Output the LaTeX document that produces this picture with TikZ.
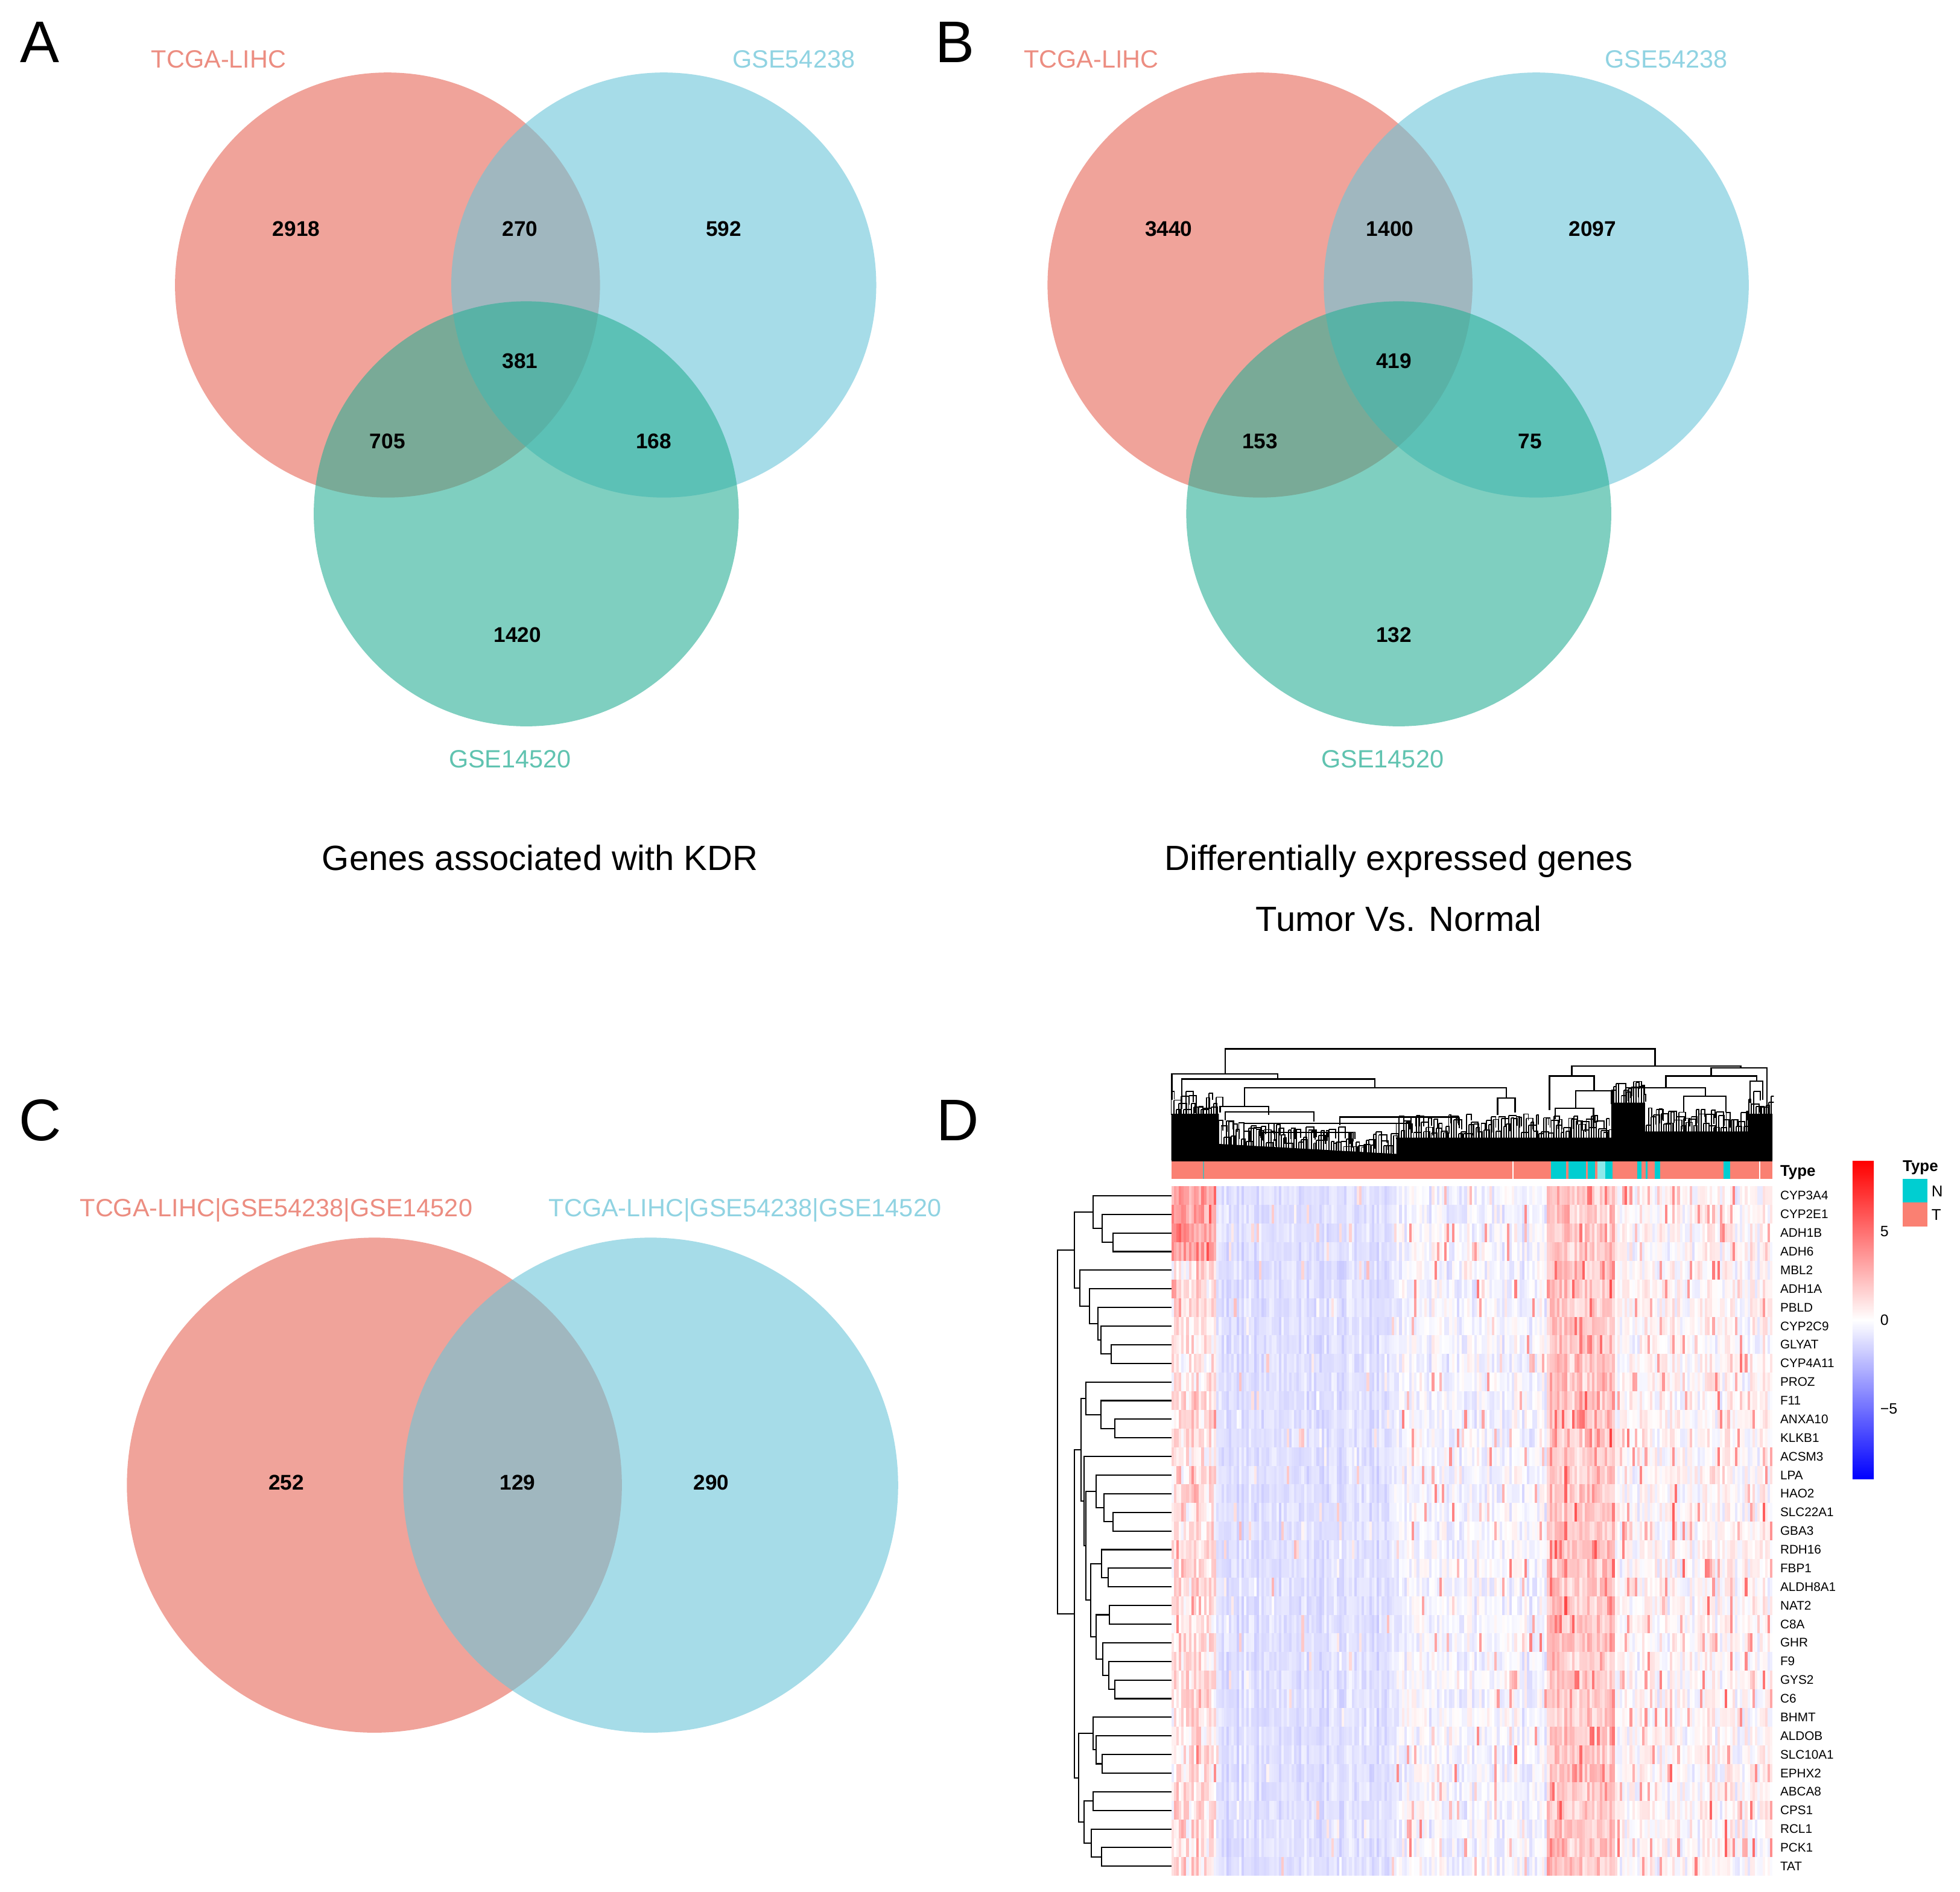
\documentclass[tikz,border=0pt]{standalone}
\usepackage{fontspec}
\setmainfont{Liberation Sans}
\usetikzlibrary{calc}
\definecolor{vred}{RGB}{230,103,87}
\definecolor{vblue}{RGB}{107,197,217}
\definecolor{vgreen}{RGB}{43,175,150}
\definecolor{tsalmon}{RGB}{250,128,114}
\definecolor{ncyan}{RGB}{0,206,209}
\newcommand\fsz[1]{\fontsize{#1}{#1}\selectfont}
\newcommand\dmerge[4]{%
  \path let \p1=(#2), \p2=(#3) in coordinate (#1) at (#4pt,{0.5*(\y1+\y2)});
  \draw[dline] let \p1=(#2), \p2=(#3) in (#2) -- (#4pt,\y1) -- (#4pt,\y2) -- (#3);}
\begin{document}
\begin{tikzpicture}[x=1pt,y=-1pt,
  vc/.style={circle, inner sep=0pt, outer sep=0pt, fill opacity=0.6, minimum size=#1},
  num/.style={font=\fsz{17}\bfseries, inner sep=0pt},
  setl/.style={font=\fsz{20}, inner sep=0pt, anchor=base},
  ttl/.style={font=\fsz{28}, inner sep=0pt, anchor=base},
  plab/.style={font=\fsz{47}, inner sep=0pt},
  gene/.style={font=\fsz{10}, inner sep=0pt, anchor=west},
  small/.style={font=\fsz{12}, inner sep=0pt},
  dline/.style={line width=1pt, black},
  tline/.style={line width=1.1pt, black}]
\useasboundingbox (0,0) rectangle (1568,1513);
\fill[white] (0,0) rectangle (1568,1513);

% ---------------- Panel A ----------------
\node[plab] (pA) at (32,34) {A};
\node[vc=340pt, fill=vred] (Ar) at (310,228) {};
\node[vc=340pt, fill=vblue] (Ab) at (531,228) {};
\node[vc=340pt, fill=vgreen] (Ag) at (421,411) {};
\node[num] (An1) at (237,183) {2918};
\node[num] (An2) at (416,183) {270};
\node[num] (An3) at (579,183) {592};
\node[num] (An4) at (416,289) {381};
\node[num] (An5) at (310,353) {705};
\node[num] (An6) at (523,353) {168};
\node[num] (An7) at (414,508) {1420};
\node[setl, text=vred!75!white] (As1) at (175,54.5) {TCGA-LIHC};
\node[setl, text=vblue!75!white] (As2) at (635,54.5) {GSE54238};
\node[setl, text=vgreen!75!white] (As3) at (408,614) {GSE14520};
\node[ttl] (At) at (432,696) {Genes associated with KDR};

% ---------------- Panel B ----------------
\node[plab] (pB) at (764,34) {B};
\node[vc=340pt, fill=vred] (Br) at (1008,228) {};
\node[vc=340pt, fill=vblue] (Bb) at (1229,228) {};
\node[vc=340pt, fill=vgreen] (Bg) at (1119,411) {};
\node[num] (Bn1) at (935,183) {3440};
\node[num] (Bn2) at (1112,183) {1400};
\node[num] (Bn3) at (1274,183) {2097};
\node[num] (Bn4) at (1115,289) {419};
\node[num] (Bn5) at (1008,353) {153};
\node[num] (Bn6) at (1224,353) {75};
\node[num] (Bn7) at (1115,508) {132};
\node[setl, text=vred!75!white] (Bs1) at (873,54.5) {TCGA-LIHC};
\node[setl, text=vblue!75!white] (Bs2) at (1333,54.5) {GSE54238};
\node[setl, text=vgreen!75!white] (Bs3) at (1106,614) {GSE14520};
\node[ttl] (Bt1) at (1119,696) {Differentially expressed genes};
\node[ttl] (Bt2) at (1119,745) {Tumor Vs. Normal};

% ---------------- Panel C ----------------
\node[plab] (pC) at (32,896) {C};
\node[vc=396pt, fill=vred] (Cr) at (299.5,1188) {};
\node[vc=396pt, fill=vblue] (Cb) at (520.5,1188) {};
\node[num] (Cn1) at (229,1186) {252};
\node[num] (Cn2) at (414,1186) {129};
\node[num] (Cn3) at (569,1186) {290};
\node[setl, text=vred!75!white] (Cs1) at (221,973) {TCGA-LIHC|GSE54238|GSE14520};
\node[setl, text=vblue!75!white] (Cs2) at (596,973) {TCGA-LIHC|GSE54238|GSE14520};

% ---------------- Panel D ----------------
\node[plab] (pD) at (766,896) {D};

% heatmap cells
\pgfmathsetseed{2718}
\foreach \c in {0,...,239}{
  \pgfmathsetmacro\hx{937+2.004*\c}
  \pgfmathsetmacro\co{0.45*rand}
  \pgfmathtruncatemacro\zone{\c<18 ? 1 : (\c<90 ? 2 : (\c<150 ? 3 : (\c<177 ? 4 : 5)))}
  \foreach \r in {0,...,36}{
    \ifcase\zone\or
      \pgfmathsetmacro\hm{\r<4 ? 3.5 : 1.0}\def\ha{1.5}\def\hs{0.08}\def\hp{2}%
    \or \def\hm{-1.15}\def\ha{0.45}\def\hs{0.04}\def\hp{2.2}%
    \or \def\hm{-0.3}\def\ha{0.85}\def\hs{0.06}\def\hp{3.2}%
    \or \def\hm{1.9}\def\ha{1.2}\def\hs{0.1}\def\hp{2.5}%
    \or \def\hm{0.2}\def\ha{1.0}\def\hs{0.08}\def\hp{3}%
    \fi
    \pgfmathsetmacro\hv{\hm+\co+\ha*rand+(rnd<\hs ? \hp*(0.5+rnd) : 0)}
    \pgfmathsetmacro\hq{min(100,abs(\hv)*11)}
    \ifdim\hv pt>0pt \def\hcol{red}\else\def\hcol{blue}\fi
    \fill[\hcol!\hq!white] ({\hx},{949+14.9*\r}) rectangle ++(2.15,15.0);
  }
}

% type annotation bar
\fill[tsalmon] (937,929) rectangle (1418,943);
\fill[ncyan!60!tsalmon] (962.5,929) rectangle (963.5,943);
\fill[white] (1210,929) rectangle (1211,943);
\fill[white] (1407.2,929) rectangle (1408.2,943);
\fill[ncyan] (1241,929) rectangle (1253,943);
\fill[ncyan] (1255,929) rectangle (1269,943);
\fill[ncyan] (1270,929) rectangle (1276,943);
\fill[ncyan!45!white] (1278,929) rectangle (1284,943);
\fill[ncyan] (1284,929) rectangle (1290,943);
\fill[ncyan] (1310,929) rectangle (1313,943);
\fill[ncyan] (1316.5,929) rectangle (1318,943);
\fill[ncyan] (1324,929) rectangle (1328,943);
\fill[ncyan] (1379,929) rectangle (1384,943);
\node[font=\fsz{12.5}\bfseries, inner sep=0pt, anchor=base west] (typeA) at (1424,941) {Type};

% top dendrogram: dense lower part
\begin{scope}
\clip (936,800) rectangle (1419,929);
\fill[black] (937,928) -- (937,891) -- (975,891) -- (975,915) -- (1117,923) -- (1117,910)
  -- (1289,910) -- (1289,882) -- (1316,882) -- (1316,905) -- (1398,905) -- (1398,891)
  -- (1418,891) -- (1418,928) -- cycle;
\pgfmathsetseed{99}
\foreach \i in {0,...,240}{
  \pgfmathsetmacro\tx{937+2.0*\i}
  \pgfmathsetmacro\tb{\tx<975 ? 891 : (\tx<1117 ? 915+8*(\tx-975)/142 : (\tx<1289 ? 910 : (\tx<1316 ? 882 : (\tx<1398 ? 905 : 891))))}
  \pgfmathsetmacro\tt{\tb-3-16*rnd}
  \pgfmathsetmacro\tw{1.5+5*rnd}
  \draw[line width=0.9pt] (\tx,\tt) -- (\tx,\tb+1);
  \draw[line width=0.9pt] (\tx,\tt) -- ++(\tw,0) -- ++(0,5+4*rnd);
}
\end{scope}
\draw[line width=2pt] (937,928) -- (1418,928);
% top dendrogram: skeleton
\draw[tline] (980,859.1) -- (980,839) -- (1324,839) -- (1324,852.6);
\draw[tline] (937.4,880) -- (937.4,859.1) -- (1022.1,859.1) -- (1022.1,863.1);
\draw[tline] (945.4,884) -- (945.4,863.1) -- (1099.8,863.1) -- (1099.8,870);
\draw[tline] (995.7,885) -- (995.7,870) -- (1205.2,870) -- (1205.2,878.4);
\draw[tline] (976,890) -- (976,885) -- (1015,885) -- (1015,892);
\draw[tline] (980,896) -- (980,889.6) -- (1051,889.6) -- (1051,897);
\draw[tline] (1072,900) -- (1072,893.6) -- (1167,893.6) -- (1167,900);
\draw[tline] (995,906) -- (995,898.5) -- (1127,898.5) -- (1127,905);
\draw[tline] (1010,912) -- (1010,905.7) -- (1080,905.7) -- (1080,915);
\draw[tline] (1198,892) -- (1198,878.4) -- (1212,878.4) -- (1212,890);
\draw[tline] (1257.4,860.7) -- (1257.4,852.6) -- (1392.5,852.6) -- (1392.5,854.2);
\draw[tline] (1239.5,888) -- (1239.5,860.7) -- (1275.3,860.7) -- (1275.3,872.7);
\draw[tline] (1260.7,886.4) -- (1260.7,872.7) -- (1290.3,872.7) -- (1290.3,892);
\draw[tline] (1244.2,895) -- (1244.2,886.4) -- (1274.8,886.4) -- (1274.8,895);
\draw[tline] (1368.9,860.7) -- (1368.9,854.2) -- (1413.6,854.2) -- (1413.6,885);
\draw[tline] (1332.7,870.3) -- (1332.7,860.7) -- (1405.2,860.7) -- (1405.2,864.7);
\draw[tline] (1300.7,886) -- (1300.7,870.3) -- (1364.2,870.3) -- (1364.2,876.8);
\draw[tline] (1346.8,890) -- (1346.8,876.8) -- (1380.7,876.8) -- (1380.7,890);
\draw[tline] (1400,882) -- (1400,864.7) -- (1410,864.7) -- (1410,880);

% gene labels and left dendrogram leaves
\foreach \g [count=\k] in {CYP3A4,CYP2E1,ADH1B,ADH6,MBL2,ADH1A,PBLD,CYP2C9,GLYAT,CYP4A11,PROZ,F11,ANXA10,KLKB1,ACSM3,LPA,HAO2,SLC22A1,GBA3,RDH16,FBP1,ALDH8A1,NAT2,C8A,GHR,F9,GYS2,C6,BHMT,ALDOB,SLC10A1,EPHX2,ABCA8,CPS1,RCL1,PCK1,TAT}{
  \node[gene] (G\k) at (1424,{949+(\k-0.5)*14.9}) {\g};
  \coordinate (L\k) at (937,{949+(\k-0.5)*14.9});
}
% left dendrogram
\dmerge{m34}{L3}{L4}{890.4}
\dmerge{m24}{L2}{m34}{881.9}
\dmerge{m14}{L1}{m24}{874.3}
\dmerge{m910}{L9}{L10}{888.8}
\dmerge{m810}{L8}{m910}{880.8}
\dmerge{m710}{L7}{m810}{878.4}
\dmerge{m610}{L6}{m710}{871.6}
\dmerge{m510}{L5}{m610}{863.9}
\dmerge{m110}{m14}{m510}{859.5}
\dmerge{na}{L13}{L14}{892.0}
\dmerge{nb}{L12}{na}{880.8}
\dmerge{nc}{L11}{nb}{868.7}
\dmerge{nd}{L18}{L19}{890.4}
\dmerge{ne}{L17}{nd}{883.2}
\dmerge{nf}{L16}{ne}{876.8}
\dmerge{ng}{L21}{L22}{886.4}
\dmerge{nh}{L20}{ng}{881.3}
\dmerge{ni}{L23}{L24}{887.7}
\dmerge{nj}{L27}{L28}{891.7}
\dmerge{nk}{L26}{nj}{887.2}
\dmerge{nl}{L25}{nk}{882.4}
\dmerge{nm}{ni}{nl}{877.1}
\dmerge{nn}{nh}{nm}{872.7}
\dmerge{no}{nf}{nn}{868.7}
\dmerge{np}{L15}{no}{867.4}
\dmerge{nq}{nc}{np}{864.7}
\dmerge{nr}{L31}{L32}{881.6}
\dmerge{ns}{L30}{nr}{876.8}
\dmerge{nt}{L29}{ns}{874.3}
\dmerge{nu}{L33}{L34}{874.3}
\dmerge{nv}{L36}{L37}{881.3}
\dmerge{nw}{L35}{nv}{873.2}
\dmerge{nx}{nu}{nw}{867.4}
\dmerge{ny}{nt}{nx}{863.1}
\dmerge{nz}{nq}{ny}{859.5}
\dmerge{root}{m110}{nz}{846.2}

% colour bar
\shade[top color=red, bottom color=blue, middle color=white] (1482,929) rectangle (1499,1183);
\node[small, anchor=west] (cb5) at (1504,985) {5};
\node[small, anchor=west] (cb0) at (1504,1056) {0};
\node[small, anchor=west] (cbm) at (1504,1127) {−5};

% legend
\node[font=\fsz{12.5}\bfseries, inner sep=0pt, anchor=base west] (typeL) at (1522,937) {Type};
\fill[ncyan] (1522,943) rectangle (1542,962);
\fill[tsalmon] (1522,962) rectangle (1542,981);
\node[font=\fsz{12.5}, inner sep=0pt, anchor=west] (legN) at (1545,953) {N};
\node[font=\fsz{12.5}, inner sep=0pt, anchor=west] (legT) at (1545,972) {T};
\end{tikzpicture}
\end{document}
